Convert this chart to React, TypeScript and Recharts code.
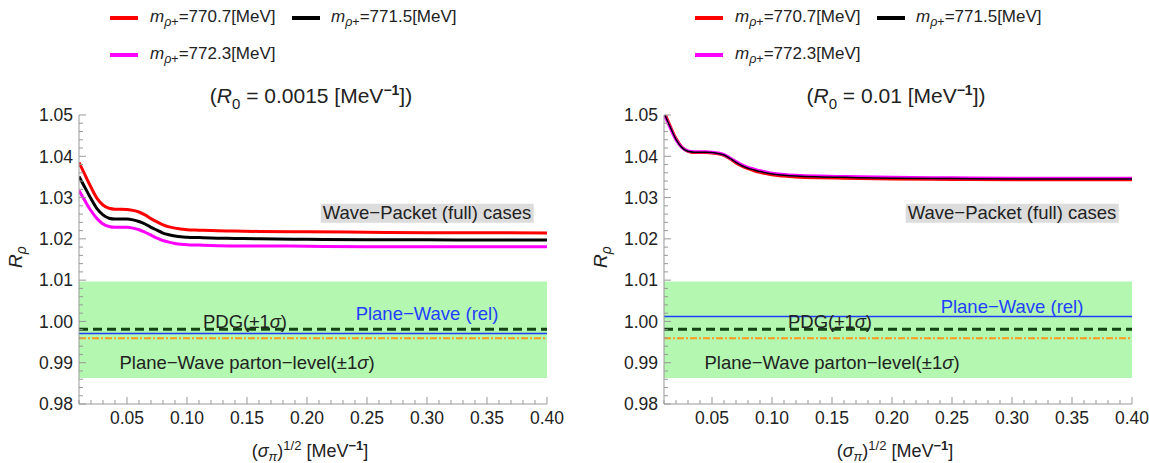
import React from 'react';
import { LineChart, Line, XAxis, YAxis, ReferenceArea, ReferenceLine } from 'recharts';

// (sigma_pi)^(1/2) sample points, MeV^-1
const sigma = [0.01, 0.015, 0.02, 0.025, 0.03, 0.035, 0.04, 0.045, 0.05, 0.055, 0.06, 0.065, 0.07, 0.075, 0.08, 0.085, 0.09, 0.095, 0.10, 0.11, 0.12, 0.14, 0.16, 0.20, 0.25, 0.30, 0.35, 0.40];

// R0 = 0.0015
const leftRed = [1.0385, 1.0355, 1.0325, 1.0298, 1.0282, 1.0274, 1.0272, 1.0272, 1.0271, 1.0269, 1.0265, 1.0258, 1.0249, 1.0241, 1.0234, 1.0229, 1.0226, 1.0224, 1.0222, 1.0221, 1.022, 1.0219, 1.0218, 1.0217, 1.0216, 1.0215, 1.0215, 1.0214];
const leftBlack = [1.0351, 1.0324, 1.0297, 1.0273, 1.0258, 1.025, 1.0248, 1.0248, 1.0248, 1.0246, 1.0242, 1.0236, 1.0228, 1.0221, 1.0214, 1.021, 1.0207, 1.0205, 1.0204, 1.0203, 1.0202, 1.0201, 1.02, 1.0199, 1.0198, 1.0198, 1.0197, 1.0197];
const leftMagenta = [1.0317, 1.0292, 1.0268, 1.0249, 1.0236, 1.023, 1.0228, 1.0228, 1.0228, 1.0226, 1.0222, 1.0216, 1.0209, 1.0202, 1.0196, 1.0192, 1.0189, 1.0187, 1.0186, 1.0185, 1.0184, 1.0183, 1.0183, 1.0182, 1.0181, 1.0181, 1.0181, 1.0181];

// R0 = 0.01
const rightRed = [1.0508, 1.0474, 1.0443, 1.0422, 1.0412, 1.0409, 1.0409, 1.0409, 1.0408, 1.0406, 1.0402, 1.0394, 1.0384, 1.0376, 1.037, 1.0365, 1.0361, 1.0358, 1.0355, 1.0352, 1.035, 1.0348, 1.0347, 1.0345, 1.0344, 1.0343, 1.0343, 1.0343];
const rightBlack = [1.0505, 1.0472, 1.0441, 1.0421, 1.0412, 1.041, 1.041, 1.041, 1.0409, 1.0407, 1.0403, 1.0395, 1.0385, 1.0377, 1.0371, 1.0367, 1.0363, 1.036, 1.0357, 1.0354, 1.0352, 1.035, 1.0349, 1.0347, 1.0346, 1.0345, 1.0345, 1.0345];
const rightMagenta = [1.0502, 1.047, 1.044, 1.0421, 1.0413, 1.0411, 1.0411, 1.0411, 1.041, 1.0408, 1.0404, 1.0396, 1.0387, 1.0379, 1.0373, 1.0369, 1.0365, 1.0362, 1.0359, 1.0356, 1.0354, 1.0352, 1.0351, 1.0349, 1.0348, 1.0347, 1.0347, 1.0347];

// horizontal reference values
const bandLow = 0.9863;
const bandHigh = 1.0097;
const pdgValue = 0.9981;
const partonValue = 0.9959;
const planeWaveLeft = 0.9971;
const planeWaveRight = 1.0012;

const xTicks = [0.01, 0.02, 0.03, 0.04, 0.05, 0.06, 0.07, 0.08, 0.09, 0.10, 0.11, 0.12, 0.13, 0.14, 0.15, 0.16, 0.17, 0.18, 0.19, 0.20, 0.21, 0.22, 0.23, 0.24, 0.25, 0.26, 0.27, 0.28, 0.29, 0.30, 0.31, 0.32, 0.33, 0.34, 0.35, 0.36, 0.37, 0.38, 0.39, 0.40];
const yTicks = [0.98, 0.982, 0.984, 0.986, 0.988, 0.99, 0.992, 0.994, 0.996, 0.998, 1.0, 1.002, 1.004, 1.006, 1.008, 1.01, 1.012, 1.014, 1.016, 1.018, 1.02, 1.022, 1.024, 1.026, 1.028, 1.03, 1.032, 1.034, 1.036, 1.038, 1.04, 1.042, 1.044, 1.046, 1.048, 1.05];

const FONT = '"Liberation Sans", Arial, sans-serif';
const FRAME = '#999';

const isMultiple = (v: number, step: number) => Math.abs(v / step - Math.round(v / step)) < 1e-6;

const FrameTick = (props: any) => {
  const { x, y, payload, side } = props;
  const v = payload.value as number;
  const major = side === 'bottom' || side === 'top' ? isMultiple(v, 0.05) : isMultiple(v, 0.01);
  const len = major ? 7 : 4;
  let line;
  if (side === 'bottom') line = <line x1={x} y1={y} x2={x} y2={y - len} stroke={FRAME} />;
  else if (side === 'top') line = <line x1={x} y1={y} x2={x} y2={y + len} stroke={FRAME} />;
  else if (side === 'left') line = <line x1={x} y1={y} x2={x + len} y2={y} stroke={FRAME} />;
  else line = <line x1={x} y1={y} x2={x - len} y2={y} stroke={FRAME} />;
  return (
    <g>
      {line}
      {major && side === 'bottom' && (
        <text x={x} y={y + 20} textAnchor="middle" fontSize={17.5} fill="#222" fontFamily={FONT}>{v.toFixed(2)}</text>
      )}
      {major && side === 'left' && (
        <text x={x - 6} y={y} dy="0.36em" textAnchor="end" fontSize={17.5} fill="#222" fontFamily={FONT}>{v.toFixed(2)}</text>
      )}
    </g>
  );
};

const Mrho = ({ value }: { value: string }) => (
  <span><i>m</i><sub style={{ fontSize: 12.5 }}><i>ρ</i>+</sub>={value}[MeV]</span>
);

const place = (x: number, y: number, extra: React.CSSProperties = {}): React.CSSProperties => ({
  position: 'absolute', left: x, top: y, transform: 'translate(-50%, -50%)', whiteSpace: 'nowrap', lineHeight: 1, ...extra,
});

const legendSwatch = (color: string, x: number, y: number) => (
  <div style={{ position: 'absolute', left: x, top: y - 2, width: 28, height: 4, background: color }} />
);

interface PanelProps {
  left: number;
  red: number[];
  black: number[];
  magenta: number[];
  planeWave: number;
  planeWaveTextY: number;
  r0: string;
  blackWidth: number;
}

const Panel = ({ left, red, black, magenta, planeWave, planeWaveTextY, r0, blackWidth }: PanelProps) => {
  const data = sigma.map((s, i) => ({ s, red: red[i], black: black[i], magenta: magenta[i] }));
  return (
    <div style={{ position: 'absolute', left, top: 0, width: 564, height: 463, fontFamily: FONT, color: '#222' }}>
      <LineChart width={564} height={463} data={data} margin={{ top: 115, right: 17, bottom: 29, left: 19 }}>
        <XAxis dataKey="s" type="number" domain={[0.01, 0.4]} ticks={xTicks} interval={0} allowDataOverflow
          stroke={FRAME} tickSize={0} tickMargin={0} tickLine={false} height={30}
          tick={(p: any) => <FrameTick {...p} side="bottom" />} />
        <XAxis xAxisId="top" dataKey="s" type="number" orientation="top" domain={[0.01, 0.4]} ticks={xTicks} interval={0} allowDataOverflow
          stroke={FRAME} tickSize={0} tickMargin={0} tickLine={false} height={0}
          tick={(p: any) => <FrameTick {...p} side="top" />} />
        <YAxis type="number" domain={[0.98, 1.05]} ticks={yTicks} interval={0} allowDataOverflow
          stroke={FRAME} tickSize={0} tickMargin={0} tickLine={false} width={60}
          tick={(p: any) => <FrameTick {...p} side="left" />} />
        <YAxis yAxisId="r" type="number" orientation="right" domain={[0.98, 1.05]} ticks={yTicks} interval={0} allowDataOverflow
          stroke={FRAME} tickSize={0} tickMargin={0} tickLine={false} width={0}
          tick={(p: any) => <FrameTick {...p} side="right" />} />
        <ReferenceArea y1={bandLow} y2={bandHigh} fill="#b3f7b0" fillOpacity={1} stroke="none" ifOverflow="hidden" />
        <ReferenceLine y={partonValue} stroke="#ff9a1f" strokeWidth={2} strokeDasharray="7 2 2 2" />
        <ReferenceLine y={planeWave} stroke="#1f3fff" strokeWidth={1.5} />
        <ReferenceLine y={pdgValue} stroke="#134313" strokeWidth={3} strokeDasharray="9 5" />
        <Line dataKey="red" type="monotone" stroke="#ff0000" strokeWidth={3} dot={false} isAnimationActive={false} />
        <Line dataKey="magenta" type="monotone" stroke="#ff00ff" strokeWidth={3} dot={false} isAnimationActive={false} />
        <Line dataKey="black" type="monotone" stroke="#000000" strokeWidth={blackWidth} dot={false} isAnimationActive={false} />
      </LineChart>

      {legendSwatch('#ff0000', 110, 18)}
      <div style={place(150, 18, { fontSize: 17, transform: 'translate(0, -50%)' })}><Mrho value="770.7" /></div>
      {legendSwatch('#000000', 292, 18)}
      <div style={place(331, 18, { fontSize: 17, transform: 'translate(0, -50%)' })}><Mrho value="771.5" /></div>
      {legendSwatch('#ff00ff', 110, 55)}
      <div style={place(150, 55, { fontSize: 17, transform: 'translate(0, -50%)' })}><Mrho value="772.3" /></div>

      <div style={place(311, 97, { fontSize: 21 })}>(<i>R</i><sub style={{ fontSize: 15 }}>0</sub> = {r0} [MeV<sup style={{ fontSize: 14, fontWeight: 'bold' }}>−1</sup>])</div>

      <div style={place(17, 257, { fontSize: 19, transform: 'translate(-50%, -50%) rotate(-90deg)' })}><i>R</i><sub style={{ fontSize: 14 }}><i>ρ</i></sub></div>
      <div style={place(310, 451, { fontSize: 18 })}>(<i>σ</i><sub style={{ fontSize: 13 }}><i>π</i></sub>)<sup style={{ fontSize: 13 }}>1/2</sup> [MeV<sup style={{ fontSize: 13, fontWeight: 'bold' }}>−1</sup>]</div>

      <div style={place(427, 213, { fontSize: 18.5, background: '#dcdcdc', padding: '0 2px' })}>Wave−Packet (full) cases</div>
      <div style={place(427, planeWaveTextY, { fontSize: 18.5, color: '#1f3fff' })}>Plane−Wave (rel)</div>
      <div style={place(245, 322, { fontSize: 18.5 })}>PDG(±1<i>σ</i>)</div>
      <div style={place(247, 363, { fontSize: 18.5 })}>Plane−Wave parton−level(±1<i>σ</i>)</div>
    </div>
  );
};

export default function App() {
  return (
    <div style={{ position: 'absolute', left: 0, top: 0, width: 1149, height: 463, overflow: 'hidden', background: '#fff' }}>
      <Panel left={0} red={leftRed} black={leftBlack} magenta={leftMagenta} planeWave={planeWaveLeft} planeWaveTextY={314} r0="0.0015" blackWidth={3} />
      <Panel left={585} red={rightRed} black={rightBlack} magenta={rightMagenta} planeWave={planeWaveRight} planeWaveTextY={307} r0="0.01" blackWidth={1.5} />
    </div>
  );
}
